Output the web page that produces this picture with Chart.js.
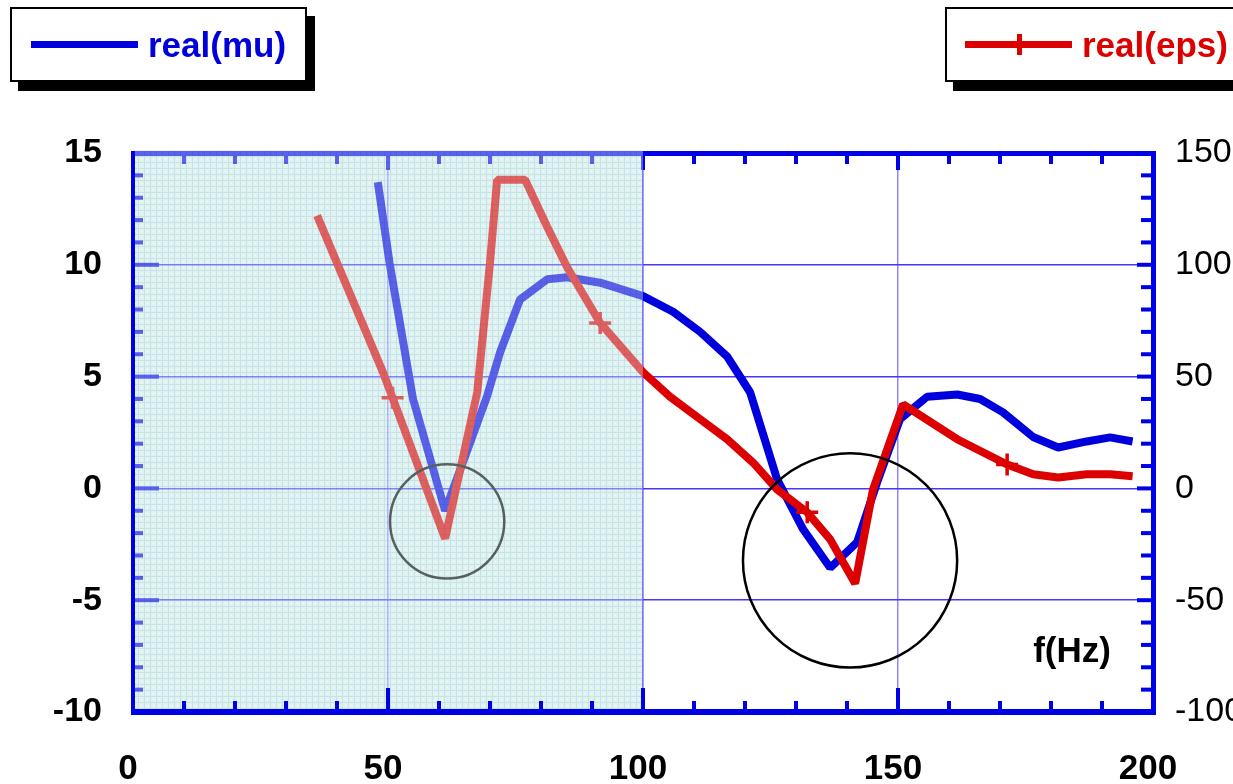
<!DOCTYPE html>
<html lang="en">
<head>
<meta charset="UTF-8">
<title>real(mu) and real(eps) against f</title>
<script src="https://cdn.jsdelivr.net/npm/chart.js@4.4.1/dist/chart.umd.min.js"></script>
<style>
  html, body { margin: 0; padding: 0; background: #fff; overflow: hidden; }
  #wrap { position: relative; width: 1233px; height: 784px; overflow: hidden; }
  #plot { position: absolute; left: 0; top: 0; }
  .key {
    position: absolute; box-sizing: border-box; height: 75px;
    background: #fff; border: 2px solid #000; box-shadow: 8px 9px 0 #000;
    display: flex; align-items: center; white-space: nowrap;
    font: bold 35px "Liberation Sans", Arial, sans-serif;
  }
  .swatch { position: relative; display: inline-block; width: 107px; height: 7px; margin-right: 10px; }
  .swatch.cross::after {
    content: ""; position: absolute; left: 52px; top: -7px; width: 5px; height: 21px; background: inherit;
  }
</style>
</head>
<body>
<div id="wrap">
  <canvas id="plot" width="1233" height="784"></canvas>
  <div class="key" style="left:10px; top:7px; width:297px; padding-left:19px; color:#0000dc;">
    <span class="swatch" style="background:#0000dc;"></span>real(mu)
  </div>
  <div class="key" style="left:945px; top:7px; width:320px; padding-left:18px; color:#dc0000;">
    <span class="swatch cross" style="background:#dc0000;"></span>real(eps)
  </div>
</div>
<script>
// frequency axis (Hz)
const xMin = 0, xMax = 200, xStep = 50, xMinorStep = 10;
// left axis: real(mu)
const muMin = -10, muMax = 15, muStep = 5, muMinorStep = 1;
// right axis: real(eps)
const epsMin = -100, epsMax = 150, epsStep = 50, epsMinorStep = 10;

const muFreq = [48.0, 50.3, 54.9, 61.2, 69.4, 72.0, 75.9, 81.2, 85.1, 91.6, 100, 105.9, 111.2, 116.5, 121.0,
                126.3, 131.4, 136.7, 142.0, 145.9, 150.4, 155.7, 161.6, 166.1, 170.6, 176.5, 181.4, 187.0, 191.6, 196.0];
const muReal = [13.7, 10.1, 4.0, -1.0, 4.1, 6.1, 8.45, 9.35, 9.44, 9.2, 8.6, 7.9, 7.0, 5.9, 4.3,
                0.4, -1.83, -3.55, -2.4, 0.27, 3.1, 4.1, 4.2, 4.0, 3.4, 2.3, 1.83, 2.1, 2.28, 2.1];

const epsFreq = [36.1, 49.0, 50.9, 61.2, 67.5, 70.0, 71.4, 76.9, 81.2, 85.1, 91.6, 100, 105.3, 110.6,
                 116.5, 121.6, 126.3, 132.2, 136.7, 141.6, 145.1, 151.0, 161.6, 171.4, 176.5, 181.4, 187.0, 191.6, 196.0];
const epsReal = [122, 52, 40.5, -22.4, 43, 101, 138, 138, 117, 99, 74, 52, 41, 32,
                 22, 11.5, -0.5, -10.7, -22.8, -42.5, -0.5, 37.6, 22, 10.7, 6.3, 4.9, 6.3, 6.3, 5.4];
// frequencies carrying a "+" marker on the eps curve
const epsMarks = [50.9, 91.6, 132.2, 171.4];

// shaded low-frequency band
const bandFrom = 0, bandTo = 100;
// highlighted regions: centre (f, mu) and radius in Hz
const rings = [
  { f: 61.6, mu: -1.48, r: 11.2 },
  { f: 140.6, mu: -3.22, r: 21.0 }
];

const BLUE = '#0000e6';
const FONT = '"Liberation Sans", Arial, sans-serif';

function bandPattern(ctx) {
  const tile = document.createElement('canvas');
  tile.width = 6; tile.height = 6;
  const t = tile.getContext('2d');
  t.fillStyle = 'rgb(224,242,242)';
  t.fillRect(0, 0, 6, 6);
  t.fillStyle = 'rgb(198,227,229)';
  t.fillRect(0, 0, 6, 1);
  t.fillRect(0, 0, 1, 6);
  t.fillStyle = 'rgb(246,252,252)';
  t.fillRect(3, 3, 1, 1);
  return ctx.createPattern(tile, 'repeat');
}

function tickMarks(ctx, from, to, step, majorStep, toPx, draw) {
  for (let v = from; v <= to + 1e-9; v += step) {
    const major = Math.abs(v / majorStep - Math.round(v / majorStep)) < 1e-6;
    draw(toPx(v), major);
  }
}

const frame = {
  id: 'frame',
  beforeDraw(chart) {
    const { ctx, chartArea: a, scales: { x } } = chart;
    const x0 = x.getPixelForValue(bandFrom), x1 = x.getPixelForValue(bandTo);
    ctx.save();
    ctx.fillStyle = bandPattern(ctx);
    ctx.fillRect(x0, a.top, x1 - x0, a.bottom - a.top);
    ctx.restore();
  },
  afterDatasetsDraw(chart) {
    const { ctx, chartArea: a, scales: { x, y, y1 } } = chart;
    ctx.save();
    ctx.fillStyle = BLUE;

    // top border and inward ticks, left ticks (these sit under the band wash)
    ctx.fillRect(a.left, a.top - 2, a.right - a.left, 5);
    tickMarks(ctx, xMin, xMax, xMinorStep, xStep, v => x.getPixelForValue(v), (px, major) => {
      ctx.fillRect(px - 2, a.top, 4, major ? 17 : 11);
    });
    tickMarks(ctx, muMin, muMax, muMinorStep, muStep, v => y.getPixelForValue(v), (py, major) => {
      ctx.fillRect(a.left, py - 2, major ? 26 : 10, 4);
    });

    // circled regions
    ctx.strokeStyle = '#000';
    ctx.lineWidth = 2.5;
    rings.forEach(c => {
      const cx = x.getPixelForValue(c.f), cy = y.getPixelForValue(c.mu);
      const r = x.getPixelForValue(c.f + c.r) - cx;
      ctx.beginPath();
      ctx.arc(cx, cy, r, 0, Math.PI * 2);
      ctx.stroke();
    });

    // translucent wash over the band
    const x0 = x.getPixelForValue(bandFrom), x1 = x.getPixelForValue(bandTo);
    ctx.globalAlpha = 0.4;
    ctx.fillStyle = bandPattern(ctx);
    ctx.fillRect(x0, a.top - 3, x1 - x0, a.bottom - a.top + 3);
    ctx.globalAlpha = 1;

    // solid borders and remaining ticks
    ctx.fillStyle = BLUE;
    ctx.fillRect(a.left - 2, a.top - 2, 4, a.bottom - a.top + 5);
    ctx.fillRect(a.right - 2, a.top - 2, 5, a.bottom - a.top + 5);
    ctx.fillRect(a.left - 2, a.bottom - 3, a.right - a.left + 5, 6);
    tickMarks(ctx, xMin, xMax, xMinorStep, xStep, v => x.getPixelForValue(v), (px, major) => {
      const h = major ? 24 : 11;
      ctx.fillRect(px - 2, a.bottom - h, 4, h);
    });
    tickMarks(ctx, epsMin, epsMax, epsMinorStep, epsStep, v => y1.getPixelForValue(v), (py, major) => {
      const w = major ? 16 : 12;
      ctx.fillRect(a.right - w, py - 2, w, 4);
    });

    // frequency axis caption
    ctx.fillStyle = '#000';
    ctx.font = 'bold 35px ' + FONT;
    ctx.textAlign = 'center';
    ctx.textBaseline = 'middle';
    ctx.fillText('f(Hz)', a.right - 81, a.bottom - 60);
    ctx.restore();
  }
};

new Chart(document.getElementById('plot'), {
  type: 'line',
  data: {
    datasets: [{
      label: 'real(eps)',
      data: epsFreq.map((f, i) => ({ x: f, y: epsReal[i] })),
      yAxisID: 'y1',
      order: 0,
      borderColor: '#dc0000',
      borderWidth: 8,
      borderJoinStyle: 'bevel',
      tension: 0,
      pointStyle: 'cross',
      pointRadius: c => epsMarks.includes(c.raw.x) ? 11 : 0,
      pointBorderWidth: 3.5,
      pointBorderColor: '#dc0000',
      pointHoverRadius: 0
    }, {
      label: 'real(mu)',
      data: muFreq.map((f, i) => ({ x: f, y: muReal[i] })),
      yAxisID: 'y',
      order: 1,
      borderColor: '#0000dc',
      borderWidth: 8,
      borderJoinStyle: 'bevel',
      tension: 0,
      pointRadius: 0,
      pointHoverRadius: 0
    }]
  },
  options: {
    responsive: false,
    animation: false,
    events: [],
    layout: { padding: { top: 153, left: 0, right: 0, bottom: 0 } },
    plugins: { legend: { display: false }, tooltip: { enabled: false } },
    scales: {
      x: {
        type: 'linear', min: xMin, max: xMax,
        afterFit: s => { s.height = 72; },
        border: { display: false },
        grid: {
          drawTicks: false,
          lineWidth: 1.5,
          color: c => (c.tick && (c.tick.value === 50 || c.tick.value === 150)) ? 'rgb(150,132,255)' : 'rgb(72,52,255)'
        },
        ticks: {
          stepSize: xStep, padding: 36, maxRotation: 0, autoSkip: false, labelOffset: -5,
          color: '#000', font: { family: FONT, size: 35, weight: 'bold' }
        }
      },
      y: {
        position: 'left', min: muMin, max: muMax,
        afterFit: s => { s.width = 133; },
        border: { display: false },
        grid: { drawTicks: false, lineWidth: 1.5, color: 'rgb(72,52,255)' },
        ticks: {
          stepSize: muStep, padding: 31,
          color: '#000', font: { family: FONT, size: 34, weight: 'bold' }
        }
      },
      y1: {
        position: 'right', min: epsMin, max: epsMax,
        afterFit: s => { s.width = 80; },
        border: { display: false },
        grid: { display: false, drawTicks: false },
        ticks: {
          stepSize: epsStep, padding: 22,
          color: '#000', font: { family: FONT, size: 34, weight: 'normal' }
        }
      }
    }
  },
  plugins: [frame]
});
</script>
</body>
</html>
